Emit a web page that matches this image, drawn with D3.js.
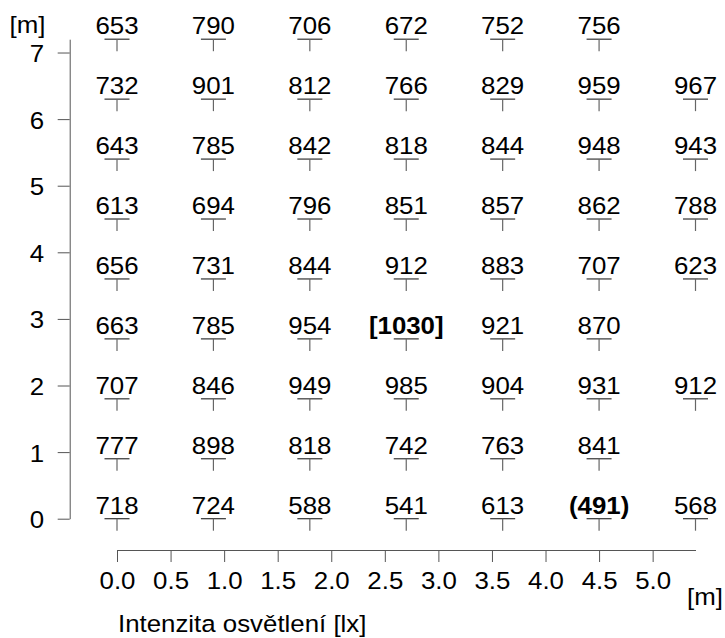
<!DOCTYPE html>
<html>
<head>
<meta charset="utf-8">
<script src="https://cdn.jsdelivr.net/npm/d3@7"></script>
<style>
  html, body { margin: 0; padding: 0; background: #fff; }
  svg { display: block; font-family: "Liberation Sans", Arial, Helvetica, sans-serif; }
</style>
</head>
<body>
<svg id="chart" width="725" height="638"></svg>
<script>
// Measurement grid positions [m]
const gridX = [0, 0.9, 1.8, 2.7, 3.6, 4.5, 5.4];
const gridY = [0, 0.9, 1.8, 2.7, 3.6, 4.5, 5.4, 6.3, 7.2];

// Illuminance readings [lx], one array per row (bottom to top), null = not measured
const row0 = [718, 724, 588, 541, 613, 491, 568];
const row1 = [777, 898, 818, 742, 763, 841, null];
const row2 = [707, 846, 949, 985, 904, 931, 912];
const row3 = [663, 785, 954, 1030, 921, 870, null];
const row4 = [656, 731, 844, 912, 883, 707, 623];
const row5 = [613, 694, 796, 851, 857, 862, 788];
const row6 = [643, 785, 842, 818, 844, 948, 943];
const row7 = [732, 901, 812, 766, 829, 959, 967];
const row8 = [653, 790, 706, 672, 752, 756, null];
const rows = [row0, row1, row2, row3, row4, row5, row6, row7, row8];

// Axis ticks
const xTicks = [0, 0.5, 1, 1.5, 2, 2.5, 3, 3.5, 4, 4.5, 5];
const yTicks = [0, 1, 2, 3, 4, 5, 6, 7];

const points = [];
rows.forEach((vals, j) => vals.forEach((v, i) => {
  if (v !== null) points.push({ x: gridX[i], y: gridY[j], v: v });
}));
const maxV = d3.max(points, d => d.v);
const minV = d3.min(points, d => d.v);

const svg = d3.select("#chart");
const x = d3.scaleLinear().domain([0, 5.4]).range([117, 695.5]);
const y = d3.scaleLinear().domain([0, 7.2]).range([518.7, 39.2]);

const axisColor = "#555";
const fs = 23.5;   // font size
const sx = 1.1;    // horizontal stretch of all lettering

// place a text node at (px,py) with the common horizontal stretch
const place = (sel, px, py) =>
  sel.attr("x", 0).attr("y", 0).attr("dy", null)
     .attr("transform", (d, i, n) => {
       const X = typeof px === "function" ? px(d, i, n) : px;
       const Y = typeof py === "function" ? py(d, i, n) : py;
       return `translate(${X},${Y}) scale(${sx},1)`;
     });

// x axis
const gx = svg.append("g").attr("transform", "translate(0,550)")
  .call(d3.axisBottom(x).tickValues(xTicks).tickFormat(d3.format(".1f"))
    .tickSize(12).tickSizeOuter(0));
gx.select(".domain").attr("stroke", axisColor);
gx.selectAll(".tick line").attr("stroke", axisColor);
gx.selectAll(".tick text").call(place, 0, 39.3)
  .attr("font-size", fs).attr("fill", "#000").attr("font-family", null);

// y axis
const gy = svg.append("g").attr("transform", "translate(69.7,0)")
  .call(d3.axisLeft(y).tickValues(yTicks).tickFormat(d3.format("d"))
    .tickSize(12).tickSizeOuter(0));
gy.select(".domain").attr("stroke", axisColor);
gy.selectAll(".tick line").attr("stroke", axisColor);
gy.selectAll(".tick text").call(place, -25.5, 9)
  .attr("font-size", fs).attr("fill", "#000").attr("font-family", null);

// unit labels and title
svg.append("text").attr("text-anchor", "middle").attr("font-size", fs)
  .text("[m]").call(place, 27.5, 33);
svg.append("text").attr("text-anchor", "middle").attr("font-size", fs)
  .text("[m]").call(place, 705, 605);
svg.append("text").attr("font-size", fs)
  .text("Intenzita osvětlení [lx]").call(place, 118, 631.7);

// markers: horizontal bar at the point, short stem below it
const marks = svg.append("g").attr("stroke-width", 1.2);
marks.selectAll("line.h").data(points).join("line").attr("class", "h")
  .attr("stroke", "#333")
  .attr("x1", d => x(d.x) - 12.5).attr("x2", d => x(d.x) + 12.5)
  .attr("y1", d => y(d.y)).attr("y2", d => y(d.y));
marks.selectAll("line.v").data(points).join("line").attr("class", "v")
  .attr("stroke", "#666")
  .attr("x1", d => x(d.x)).attr("x2", d => x(d.x))
  .attr("y1", d => y(d.y)).attr("y2", d => y(d.y) + 12);

// value labels; maximum in brackets, minimum in parentheses
svg.append("g").selectAll("text").data(points).join("text")
  .attr("text-anchor", "middle").attr("font-size", fs)
  .attr("font-weight", d => (d.v === maxV || d.v === minV) ? "bold" : null)
  .text(d => d.v === maxV ? `[${d.v}]` : d.v === minV ? `(${d.v})` : d.v)
  .call(place, d => x(d.x), d => y(d.y) - 5);
</script>
</body>
</html>
